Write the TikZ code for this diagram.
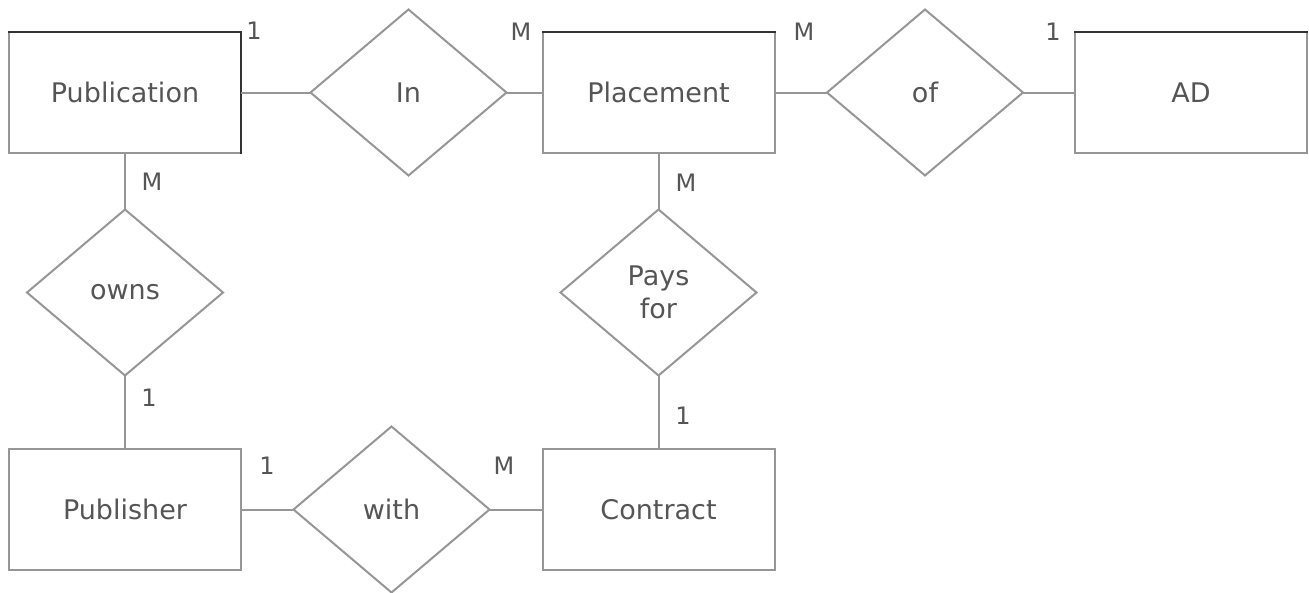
\documentclass[tikz,border=0pt]{standalone}
\usepackage{fontspec}
\setmainfont{DejaVu Sans}
\usetikzlibrary{shapes.geometric}
\definecolor{linegray}{RGB}{150,150,150}
\definecolor{topgray}{RGB}{50,50,50}
\definecolor{txtgray}{RGB}{85,85,85}
\tikzset{
  entity/.style={draw=linegray, line width=2pt, rectangle, minimum width=232pt, minimum height=121pt, inner sep=0pt, outer sep=0pt, text=txtgray, font=\fontsize{27}{33}\selectfont},
  relation/.style={draw=linegray, line width=2pt, diamond, minimum width=196pt, minimum height=166pt, inner sep=0pt, outer sep=0pt, text=txtgray, font=\fontsize{27}{33}\selectfont, align=center},
  link/.style={draw=linegray, line width=2pt},
  card/.style={text=txtgray, font=\fontsize{24}{28}\selectfont, inner sep=0pt},
  topedge/.style={draw=topgray, line width=2pt, line cap=rect}
}
\begin{document}
\begin{tikzpicture}[x=1pt,y=-1pt]
\useasboundingbox (0,0) rectangle (1309,592);
% entities
\node[entity] (pub) at (125,92.5) {Publication};
\node[entity] (plc) at (658.5,92.5) {Placement};
\node[entity] (ad) at (1191,92.5) {AD};
\node[entity] (pbl) at (125,509.5) {Publisher};
\node[entity] (con) at (658.5,509.5) {Contract};
% darker edges
\draw[topedge] (pub.north west) -- (pub.north east) -- (pub.south east);
\draw[topedge] (plc.north west) -- (plc.north east);
\draw[topedge] (ad.north west) -- (ad.north east);
% relationships
\node[relation] (in) at (408.5,92.5) {In};
\node[relation] (of) at (925,92.5) {of};
\node[relation] (owns) at (125,292.5) {owns};
\node[relation] (pays) at (658.5,292.5) {Pays\\for};
\node[relation] (with) at (391.5,509.5) {with};
% connectors
\draw[link] (pub.east) -- (in.west);
\draw[link] (in.east) -- (plc.west);
\draw[link] (plc.east) -- (of.west);
\draw[link] (of.east) -- (ad.west);
\draw[link] (pub.south) -- (owns.north);
\draw[link] (owns.south) -- (pbl.north);
\draw[link] (plc.south) -- (pays.north);
\draw[link] (pays.south) -- (con.north);
\draw[link] (pbl.east) -- (with.west);
\draw[link] (with.east) -- (con.west);
% cardinalities
\node[card] (c1) at (254,31) {1};
\node[card] (c2) at (521,32) {M};
\node[card] (c3) at (804,32) {M};
\node[card] (c4) at (1053,32) {1};
\node[card] (c5) at (152,182) {M};
\node[card] (c6) at (686,183) {M};
\node[card] (c7) at (149,398) {1};
\node[card] (c8) at (683,416) {1};
\node[card] (c9) at (267,466) {1};
\node[card] (c10) at (504,466) {M};
\end{tikzpicture}
\end{document}
